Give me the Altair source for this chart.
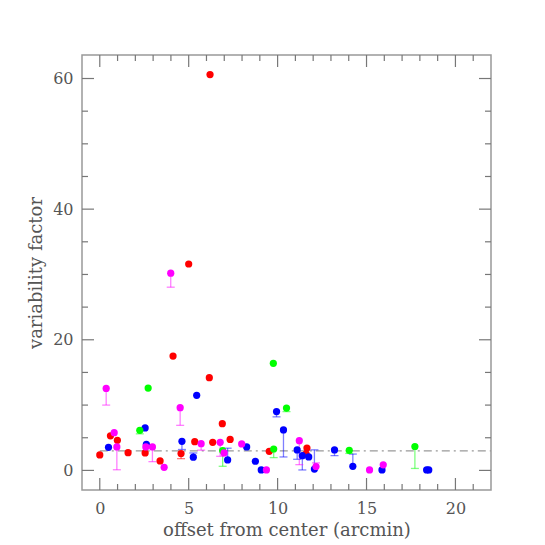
import altair as alt
import pandas as pd

# ---- data ----
red_x = [0.0, 0.6, 0.99, 1.59, 2.55, 3.39, 4.12, 4.57, 5.0, 5.34, 6.16, 6.2, 6.35, 6.89, 7.33, 9.53, 11.65, 11.6]
red_y = [2.37, 5.3, 4.6, 2.72, 2.67, 1.45, 17.5, 2.57, 31.6, 4.4, 14.2, 60.6, 4.3, 7.15, 4.75, 2.92, 3.43, 2.52]
red_lo = [None, None, None, None, None, None, None, 1.8, None, None, None, None, None, None, None, None, None, None]

blue_x = [0.49, 2.55, 2.62, 4.62, 5.26, 5.45, 7.19, 8.26, 8.75, 9.08, 9.94, 10.33, 11.1, 11.39, 11.75, 12.07, 13.2, 14.23, 15.87, 18.38, 18.5]
blue_y = [3.53, 6.5, 4.0, 4.45, 2.03, 11.5, 1.6, 3.6, 1.4, 0.07, 9.0, 6.2, 3.13, 2.26, 2.06, 0.2, 3.13, 0.63, 0.07, 0.07, 0.07]
blue_lo = [None, None, None, 3.2, 2.67, None, 3.4, None, None, None, 8.2, 2.06, 1.7, 0.07, None, 3.15, 2.26, 2.5, None, None, None]

green_x = [2.25, 2.72, 6.91, 9.76, 9.78, 10.5, 14.03, 17.72]
green_y = [6.13, 12.6, 3.03, 16.4, 3.28, 9.55, 3.07, 3.66]
green_lo = [5.6, None, 0.63, None, 1.96, 9.0, 2.6, 0.3]

magenta_x = [0.36, 0.81, 0.96, 2.59, 2.96, 3.62, 3.99, 4.52, 5.7, 6.77, 6.99, 7.98, 9.37, 11.22, 12.16, 15.17, 15.94]
magenta_y = [12.55, 5.78, 3.6, 3.6, 3.6, 0.48, 30.2, 9.6, 4.1, 4.3, 2.67, 4.05, 0.07, 4.55, 0.6, 0.07, 0.85]
magenta_lo = [10.0, None, 0.1, None, 1.34, None, 28.05, 6.9, 3.1, 2.16, None, None, None, 0.88, 1.15, None, None]

ref_level = [3]
ref_start = [0]
ref_end = [22]

x_major = [0, 5, 10, 15, 20]
x_minor = [1, 2, 3, 4, 6, 7, 8, 9, 11, 12, 13, 14, 16, 17, 18, 19, 21]
y_major = [0, 20, 40, 60]
y_minor = [5, 10, 15, 25, 30, 35, 45, 50, 55]

groups = ["red", "blue", "green", "magenta"]
colors = ["#ff0000", "#0000ff", "#00ff00", "#ff00ff"]

rows = []
for g, xv, yv, lv in [("red", red_x, red_y, red_lo), ("blue", blue_x, blue_y, blue_lo),
                      ("green", green_x, green_y, green_lo), ("magenta", magenta_x, magenta_y, magenta_lo)]:
    for x, y, lo in zip(xv, yv, lv):
        rows.append({"group": g, "x": x, "y": y, "lo": lo})
df = pd.DataFrame(rows)
err = df.dropna(subset=["lo"])

W, H = 409, 435
FONT = "DejaVu Serif"
TXT = "#555555"
TICK = "#777777"

xs = alt.Scale(domain=[-1, 22], nice=False, zero=False)
ys = alt.Scale(domain=[-3, 63.6], nice=False, zero=False)
col = alt.Color("group:N", scale=alt.Scale(domain=groups, range=colors), legend=None)

XAX = alt.Axis(values=x_major, ticks=False, domain=False, grid=False,
               labelFontSize=16, labelColor=TXT, labelFont=FONT, labelPadding=10,
               title="offset from center (arcmin)", titleFont=FONT, titleFontSize=18,
               titleFontWeight="normal", titleColor=TXT, titlePadding=5)
YAX = alt.Axis(values=y_major, ticks=False, domain=False, grid=False,
               labelFontSize=16, labelColor=TXT, labelFont=FONT, labelPadding=9,
               title="variability factor", titleFont=FONT, titleFontSize=18,
               titleFontWeight="normal", titleColor=TXT, titlePadding=7)


def X(f):
    return alt.X(f, scale=xs, axis=XAX)


def Y(f):
    return alt.Y(f, scale=ys, axis=YAX)


points = alt.Chart(df).mark_circle(size=52, opacity=1).encode(x=X("x:Q"), y=Y("y:Q"), color=col)

bars = alt.Chart(err).mark_rule(strokeWidth=1.3, opacity=0.5).encode(
    x=X("x:Q"), y=Y("y:Q"), y2="lo:Q", color=col)
caps = alt.Chart(err).mark_tick(orient="horizontal", size=8, thickness=1.3, opacity=0.5).encode(
    x=X("x:Q"), y=Y("lo:Q"), color=col)

ref = alt.Chart(pd.DataFrame({"lvl": ref_level, "a": ref_start, "b": ref_end})).mark_rule(
    color="#999999", strokeWidth=1.3, strokeDash=[8, 4, 2, 4]).encode(
    x=X("a:Q"), x2="b:Q", y=Y("lvl:Q"))


def xticks(vals, length):
    d = pd.DataFrame({"x": vals})
    b = alt.Chart(d).mark_rule(color=TICK, strokeWidth=1.2).encode(
        x=X("x:Q"), y=alt.value(H), y2=alt.value(H - length))
    t = alt.Chart(d).mark_rule(color=TICK, strokeWidth=1.2).encode(
        x=X("x:Q"), y=alt.value(0), y2=alt.value(length))
    return [b, t]


def yticks(vals, length):
    d = pd.DataFrame({"y": vals})
    l = alt.Chart(d).mark_rule(color=TICK, strokeWidth=1.2).encode(
        y=Y("y:Q"), x=alt.value(0), x2=alt.value(length))
    r = alt.Chart(d).mark_rule(color=TICK, strokeWidth=1.2).encode(
        y=Y("y:Q"), x=alt.value(W), x2=alt.value(W - length))
    return [l, r]


tick_layers = xticks(x_major, 12) + xticks(x_minor, 6) + yticks(y_major, 12) + yticks(y_minor, 6)

chart = alt.layer(ref, bars, caps, *tick_layers, points).properties(
    width=W, height=H,
    padding={"left": 74, "top": 47, "right": 30, "bottom": 50},
    autosize=alt.AutoSizeParams(type="none"),
).configure_view(stroke="#999999", strokeWidth=1.5)

chart.save("out.html", embed_options={"renderer": "svg", "actions": False})
